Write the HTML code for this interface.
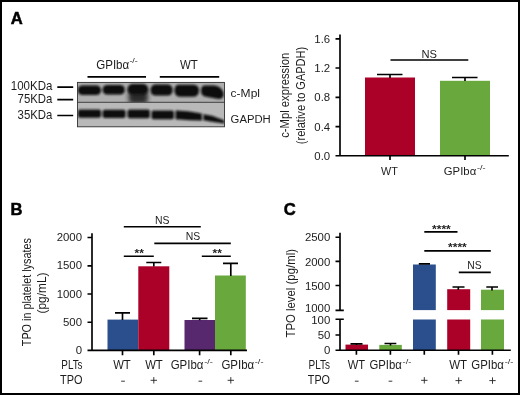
<!DOCTYPE html>
<html><head><meta charset="utf-8"><title>Figure</title>
<style>
html,body{margin:0;padding:0;background:#fff;}
body{width:520px;height:395px;overflow:hidden;}
svg{display:block;will-change:transform;}
text{font-family:"Liberation Sans",sans-serif;fill:#1d1d1d;}
.a{font-size:12.7px;}
.s{font-size:6.5px;}
.y{font-size:13px;}
.t{font-size:11px;}
.k{font-size:11.4px;}
.b{font-size:16.6px;font-weight:bold;fill:#000;stroke:#000;stroke-width:0.5px;}
.ax{stroke:#000;stroke-width:1.65;fill:none;}
.sg{stroke:#000;stroke-width:1.65;fill:none;}
</style></head><body>
<svg width="520" height="395" viewBox="0 0 520 395">
<defs>
<filter id="bl" x="-20%" y="-50%" width="140%" height="200%"><feGaussianBlur stdDeviation="1.1"/></filter>
<filter id="bl2" x="-20%" y="-50%" width="140%" height="200%"><feGaussianBlur stdDeviation="2.2"/></filter>
<clipPath id="cpU"><rect x="77.5" y="82" width="147" height="20.3"/></clipPath>
<clipPath id="cpL"><rect x="77.5" y="102.3" width="147" height="24.5"/></clipPath>
</defs>
<rect x="0" y="0" width="520" height="395" fill="#fff"/>
<rect x="1" y="1" width="518" height="393" fill="none" stroke="#000" stroke-width="2"/>

<!-- ================= Panel A blot ================= -->
<text class="b" x="10.7" y="23.6">A</text>

<text class="a" style="font-size:12.1px" x="10.8" y="90.3" textLength="41.6" lengthAdjust="spacingAndGlyphs">100KDa</text>
<text class="a" style="font-size:12.1px" x="17.6" y="102.9" textLength="34.8" lengthAdjust="spacingAndGlyphs">75KDa</text>
<text class="a" style="font-size:12.1px" x="17.6" y="118.8" textLength="34.8" lengthAdjust="spacingAndGlyphs">35KDa</text>
<path class="sg" stroke-width="1.7" d="M57.3 87.1H73.2M57.3 99.6H73.2M57.3 115.5H73.2" style="stroke-width:1.7"/>

<text class="a" x="96.2" y="68.9" textLength="33" lengthAdjust="spacingAndGlyphs">GPIbα</text>
<text class="s" x="129.4" y="63.2" textLength="8.4" lengthAdjust="spacingAndGlyphs">-/-</text>
<text class="a" x="180" y="68.9" textLength="17.8" lengthAdjust="spacingAndGlyphs">WT</text>
<path class="sg" d="M87.5 76.9H146M159.8 76.9H219.2" style="stroke-width:1.8"/>

<!-- blot background -->
<rect x="77.5" y="82.4" width="147" height="44.4" fill="#b6b6b6"/>
<g clip-path="url(#cpU)">
  <rect x="77.5" y="82" width="147" height="20.3" fill="#aeaeae"/>
  <g filter="url(#bl2)" fill="#2a2a2a">
    <rect x="128.6" y="88" width="19.2" height="15.5" rx="4"/>
  </g>
  <g filter="url(#bl)" fill="#0c0c0c">
    <rect x="77.8" y="85.5" width="23.2" height="9.6" rx="4.6"/>
    <rect x="102.6" y="84.9" width="22.2" height="9.7" rx="4.6"/>
    <rect x="127.6" y="84" width="20.4" height="10.4" rx="5" fill="#111"/>
    <rect x="150.6" y="84.6" width="22" height="11" rx="5"/>
    <path d="M179 84.8 H194 Q199.5 85.6 199 91 Q198.5 96.8 193 96.8 H180 Q174.5 96.2 174.5 90.4 Q174.5 84.8 179 84.8Z"/>
    <path d="M205 85.6 H214 Q222 86.6 223.8 93.4 Q224 99.6 217 98.8 L205 96.4 Q201 95.4 201 90.4 Q201 85.6 205 85.6Z"/>
  </g>
</g>
<g clip-path="url(#cpL)">
  <rect x="77.5" y="102.3" width="147" height="24.5" fill="#b9b9b9"/>
  <g filter="url(#bl)" fill="#0e0e0e">
    <rect x="78" y="109.5" width="23" height="8.2" rx="2"/>
    <rect x="102.6" y="109.7" width="23" height="8.2" rx="2"/>
    <rect x="127.6" y="109.4" width="22.2" height="8.8" rx="2"/>
    <rect x="151.5" y="110.4" width="22.4" height="8.8" rx="2"/>
    <path d="M175.6 110.6 L188 111.2 L201.8 113.6 L202 120.6 L190 120.2 L175.6 119.2Z"/>
    <path d="M203.4 114.2 L212 115.8 L224.5 120.6 V123.4 L212 121.8 L203.4 120.2Z"/>
  </g>
</g>
<rect x="77.5" y="82.4" width="147" height="44.4" fill="none" stroke="#333" stroke-width="0.9"/>
<path d="M77.5 102.3H224.5" stroke="#333" stroke-width="0.9" fill="none"/>

<text class="a" style="font-size:11.7px" x="230.6" y="96.9" textLength="29.4" lengthAdjust="spacingAndGlyphs">c-Mpl</text>
<text class="a" style="font-size:11.7px" x="230.6" y="122.8" textLength="40.2" lengthAdjust="spacingAndGlyphs">GAPDH</text>

<!-- ================= Panel A chart ================= -->
<text class="y" transform="translate(289,95.3) rotate(-90)" text-anchor="middle" textLength="85" lengthAdjust="spacingAndGlyphs">c-Mpl expression</text>
<text class="y" transform="translate(305.3,95.5) rotate(-90)" text-anchor="middle" textLength="97.4" lengthAdjust="spacingAndGlyphs">(relative to GAPDH)</text>
<text class="k" x="330.2" y="42.8" text-anchor="end">1.6</text>
<text class="k" x="330.2" y="72" text-anchor="end">1.2</text>
<text class="k" x="330.2" y="101.3" text-anchor="end">0.8</text>
<text class="k" x="330.2" y="130.6" text-anchor="end">0.4</text>
<text class="k" x="330.2" y="159.7" text-anchor="end">0.0</text>
<rect x="365" y="77.5" width="50" height="78" fill="#ab0028"/>
<rect x="440" y="80.8" width="50" height="75" fill="#68a83c"/>
<path class="sg" d="M390 78V74.5M377 74.5H402.5M465 81V77.5M452 77.5H477.5"/>
<path class="ax" d="M340 34.5V155.7M335.5 38.8H340M335.5 68H340M335.5 97.3H340M335.5 126.6H340M335.5 155.7H508.8M390 155.7V160M465 155.7V160"/>
<path class="sg" d="M390.5 60H468.3"/>
<text class="t" x="421.5" y="57.5" textLength="15.5" lengthAdjust="spacingAndGlyphs">NS</text>
<text class="t" x="381" y="174.7" textLength="16.8" lengthAdjust="spacingAndGlyphs">WT</text>
<text class="t" x="443.8" y="174.7" textLength="32.4" lengthAdjust="spacingAndGlyphs">GPIbα</text>
<text class="s" x="477" y="169.8" textLength="8.6" lengthAdjust="spacingAndGlyphs">-/-</text>

<!-- ================= Panel B ================= -->
<text class="b" x="10.4" y="215">B</text>
<text class="y" transform="translate(31.2,292.2) rotate(-90)" text-anchor="middle" textLength="108" lengthAdjust="spacingAndGlyphs">TPO in platelet lysates</text>
<text class="y" transform="translate(45.9,293) rotate(-90)" text-anchor="middle" textLength="41" lengthAdjust="spacingAndGlyphs">(pg/mL)</text>
<text class="k" x="82" y="241.2" text-anchor="end">2000</text>
<text class="k" x="82" y="269.4" text-anchor="end">1500</text>
<text class="k" x="82" y="297.6" text-anchor="end">1000</text>
<text class="k" x="82" y="325.9" text-anchor="end">500</text>
<text class="k" x="82" y="354.2" text-anchor="end">0</text>
<rect x="107.5" y="319.6" width="30.8" height="31" fill="#2a4f8c"/>
<rect x="138.3" y="266.3" width="31" height="84.3" fill="#ab0028"/>
<rect x="184.5" y="320" width="30.6" height="30.6" fill="#58286e"/>
<rect x="215" y="275.5" width="30.8" height="75" fill="#68a83c"/>
<path class="sg" d="M122.5 320V312.8M115 312.8H130M153.8 266.5V262.5M146.3 262.5H161.3M199.7 320.2V318.3M192 318.3H207.5M230.8 276V263.3M223 263.3H238"/>
<path class="ax" d="M92 233.2V350.4M87.5 237.5H92M87.5 265.8H92M87.5 294H92M87.5 322.2H92M87.5 350.4H247M122.5 350.4V355.3M153.8 350.4V355.3M199.6 350.4V355.3M230.8 350.4V355.3"/>
<path class="sg" d="M123.8 226.7H200.8M154.3 243.3H230.8M123.8 256.2H153.8M201.8 256.2H230.8"/>
<text class="t" x="155" y="223.8" textLength="14.5" lengthAdjust="spacingAndGlyphs">NS</text>
<text class="t" x="185.8" y="240" textLength="14.5" lengthAdjust="spacingAndGlyphs">NS</text>
<text class="t" x="134.5" y="257.2" textLength="9.3" lengthAdjust="spacingAndGlyphs" font-size="12" font-weight="bold">**</text>
<text class="t" x="212.5" y="257.2" textLength="9.3" lengthAdjust="spacingAndGlyphs" font-size="12" font-weight="bold">**</text>
<text class="a" x="61.3" y="369" textLength="21.2" lengthAdjust="spacingAndGlyphs">PLTs</text>
<text class="a" x="60" y="383.6" textLength="22.5" lengthAdjust="spacingAndGlyphs">TPO</text>
<text class="a" x="113.2" y="369" textLength="17.6" lengthAdjust="spacingAndGlyphs">WT</text>
<text class="a" x="145.2" y="369" textLength="17.6" lengthAdjust="spacingAndGlyphs">WT</text>
<text class="a" x="170.7" y="369" textLength="32.8" lengthAdjust="spacingAndGlyphs">GPIbα</text>
<text class="s" x="204.2" y="364.1" textLength="8.7" lengthAdjust="spacingAndGlyphs">-/-</text>
<text class="a" x="221.4" y="369" textLength="32.8" lengthAdjust="spacingAndGlyphs">GPIbα</text>
<text class="s" x="254.8" y="364.1" textLength="8.7" lengthAdjust="spacingAndGlyphs">-/-</text>
<path d="M121.2 381.2H124.9M198.5 381.2H202.2M150.6 380.3H157M153.8 377.1V383.5M227.6 380.3H234M230.8 377.1V383.5" stroke="#222" stroke-width="0.9" fill="none"/>

<!-- ================= Panel C ================= -->
<text class="b" x="283.7" y="215.1">C</text>
<text class="y" transform="translate(295.4,293.3) rotate(-90)" text-anchor="middle" textLength="88.5" lengthAdjust="spacingAndGlyphs">TPO level (pg/ml)</text>
<text class="k" x="330.3" y="241.4" text-anchor="end">2500</text>
<text class="k" x="330.3" y="265.6" text-anchor="end">2000</text>
<text class="k" x="330.3" y="289.6" text-anchor="end">1500</text>
<text class="k" x="330.3" y="312.4" text-anchor="end">1000</text>
<text class="k" x="330.3" y="323.8" text-anchor="end">100</text>
<text class="k" x="330.3" y="339" text-anchor="end">50</text>
<text class="k" x="330.3" y="354.3" text-anchor="end">0</text>
<rect x="345.5" y="344.6" width="22.5" height="5.9" fill="#ab0028"/>
<rect x="379.3" y="344.9" width="22.5" height="5.7" fill="#68a83c"/>
<rect x="413" y="264.5" width="22.8" height="45.6" fill="#2a4f8c"/>
<rect x="413" y="319.5" width="22.8" height="31" fill="#2a4f8c"/>
<rect x="447.2" y="289.2" width="23" height="20.9" fill="#ab0028"/>
<rect x="447.2" y="319.5" width="23" height="31" fill="#ab0028"/>
<rect x="481" y="289.7" width="23" height="20.4" fill="#68a83c"/>
<rect x="481" y="319.5" width="23" height="31" fill="#68a83c"/>
<path class="sg" d="M350.5 343.9H362.5M356.5 343.9V345M384.5 343.5H396.3M390.5 343.5V345.5M418.8 263.8H430M452.5 287H464.5M458.3 287V290M486.3 287H498M492 287V290.5"/>
<path class="ax" d="M340 232.8V310.3M335.5 237.2H340M335.5 261.4H340M335.5 285.5H340M335.5 310.3H343.8M335.5 319.2H343.8M340 319.2V350.2M335.5 335H340M335.5 350.2H510.8M356.4 350.2V354.8M390.4 350.2V354.8M424.3 350.2V354.8M458.5 350.2V354.8M492.4 350.2V354.8"/>
<path class="sg" d="M424.3 231.9H457.5M424.3 250.8H490.8M458.8 272.3H490.8"/>
<text class="t" x="432" y="232.8" textLength="18.8" lengthAdjust="spacingAndGlyphs" font-size="12" font-weight="bold">****</text>
<text class="t" x="448" y="251.2" textLength="18.8" lengthAdjust="spacingAndGlyphs" font-size="12" font-weight="bold">****</text>
<text class="t" x="467.3" y="268.8" textLength="14.3" lengthAdjust="spacingAndGlyphs">NS</text>
<text class="a" x="308.6" y="369" textLength="21.4" lengthAdjust="spacingAndGlyphs">PLTs</text>
<text class="a" x="307.8" y="383.5" textLength="22.2" lengthAdjust="spacingAndGlyphs">TPO</text>
<text class="a" x="347.8" y="369" textLength="17.4" lengthAdjust="spacingAndGlyphs">WT</text>
<text class="a" x="369.4" y="369" textLength="32.4" lengthAdjust="spacingAndGlyphs">GPIbα</text>
<text class="s" x="402.6" y="364.1" textLength="8.7" lengthAdjust="spacingAndGlyphs">-/-</text>
<text class="a" x="449.2" y="369.3" textLength="17.9" lengthAdjust="spacingAndGlyphs">WT</text>
<text class="a" x="471.3" y="369" textLength="32.6" lengthAdjust="spacingAndGlyphs">GPIbα</text>
<text class="s" x="504.7" y="364.1" textLength="8.7" lengthAdjust="spacingAndGlyphs">-/-</text>
<path d="M354.9 381.2H358.6M388.6 381.2H392.3M421.1 380.3H427.5M424.3 377.1V383.5M455.5 380.6H461.9M458.7 377.4V383.8M489.3 380.6H495.7M492.5 377.4V383.8" stroke="#222" stroke-width="0.9" fill="none"/>
</svg>
</body></html>
